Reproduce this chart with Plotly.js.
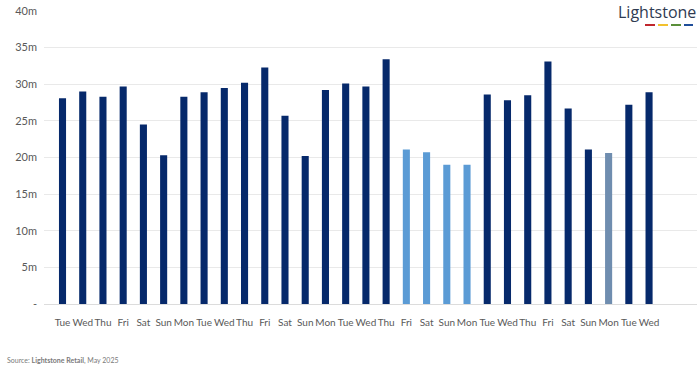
<!DOCTYPE html>
<html>
<head>
<meta charset="utf-8">
<script src="https://cdn.plot.ly/plotly-3.0.1.min.js"></script>
<style>
html,body{margin:0;padding:0;background:#fff;}
#chart{width:700px;height:368px;}
</style>
</head>
<body>
<div id="chart"></div>
<script>
const days = ["Tue","Wed","Thu","Fri","Sat","Sun","Mon","Tue","Wed","Thu","Fri","Sat","Sun","Mon","Tue","Wed","Thu","Fri","Sat","Sun","Mon","Tue","Wed","Thu","Fri","Sat","Sun","Mon","Tue","Wed"];
const values = [28.1,29.0,28.3,29.7,24.5,20.3,28.3,28.9,29.5,30.2,32.3,25.7,20.2,29.2,30.1,29.7,33.4,21.1,20.7,19.0,19.0,28.6,27.8,28.5,33.1,26.7,21.1,20.6,27.2,28.9];
const periodType = ["n","n","n","n","n","n","n","n","n","n","n","n","n","n","n","n","n","h","h","h","h","n","n","n","n","n","n","p","n","n"];
const yTickVals = [0,5,10,15,20,25,30,35,40];
const yTickText = ["-","5m","10m","15m","20m","25m","30m","35m","40m"];

const colorMap = {n:"#06296b", h:"#5b9bd5", p:"#6f8daf"};
const idx = days.map((d,i)=>i);

const trace = {
  type:"bar",
  x: idx,
  y: values,
  width: 0.35,
  marker:{color: periodType.map(t=>colorMap[t]), line:{width:0}},
  hoverinfo:"skip"
};

const layout = {
  width:700, height:368,
  margin:{l:44, r:3, t:11, b:64, pad:0},
  paper_bgcolor:"#ffffff", plot_bgcolor:"#ffffff",
  showlegend:false,
  font:{family:"Lato, 'Source Sans Pro', sans-serif", color:"#595959", size:11},
  xaxis:{
    range:[-0.915, 31.37],
    tickvals: idx, ticktext: days, tickangle:0,
    showgrid:false, zeroline:false, showline:false,
    ticks:"", ticklabelstandoff:11,
    tickfont:{size:10, color:"#595959"}
  },
  yaxis:{
    range:[0,40],
    tickvals: yTickVals, ticktext: yTickText,
    showgrid:true, gridcolor:"#e9e9e9", gridwidth:1,
    zeroline:true, zerolinecolor:"#dcdcdc", zerolinewidth:1,
    showline:false, ticks:"", ticklabelstandoff:6,
    tickfont:{size:11, color:"#595959"}
  },
  shapes:[
    {type:"rect", xref:"paper", yref:"paper", x0:(616-44)/653, x1:1.01, y0:0.99, y1:1.06, fillcolor:"#ffffff", line:{width:0}, layer:"above"},
    {type:"line", xref:"paper", yref:"paper", x0:(645-44)/653, x1:(655-44)/653, y0:(303-24)/293, y1:(303-24)/293, line:{color:"#c0262d", width:2}},
    {type:"line", xref:"paper", yref:"paper", x0:(658-44)/653, x1:(668-44)/653, y0:(303-24)/293, y1:(303-24)/293, line:{color:"#f2c12e", width:2}},
    {type:"line", xref:"paper", yref:"paper", x0:(671-44)/653, x1:(681-44)/653, y0:(303-24)/293, y1:(303-24)/293, line:{color:"#5a8f3a", width:2}},
    {type:"line", xref:"paper", yref:"paper", x0:(684-44)/653, x1:(693-44)/653, y0:(303-24)/293, y1:(303-24)/293, line:{color:"#1f4e9a", width:2}}
  ],
  annotations:[
    {xref:"paper", yref:"paper", x:(698-44)/653, y:(303-11)/293, xanchor:"right", yanchor:"middle",
     text:"Lightstone", showarrow:false, font:{family:"'Open Sans', sans-serif", size:16, color:"#2f3b52"}},
    {xref:"paper", yref:"paper", x:(5-44)/653, y:-(359-303)/293, xanchor:"left", yanchor:"middle",
     text:"Source: <b>Lightstone Retail</b>, May 2025", showarrow:false, font:{size:7, color:"#7a7a7a"}}
  ]
};

Plotly.newPlot("chart",[trace],layout,{displayModeBar:false, staticPlot:true});
</script>
</body>
</html>
